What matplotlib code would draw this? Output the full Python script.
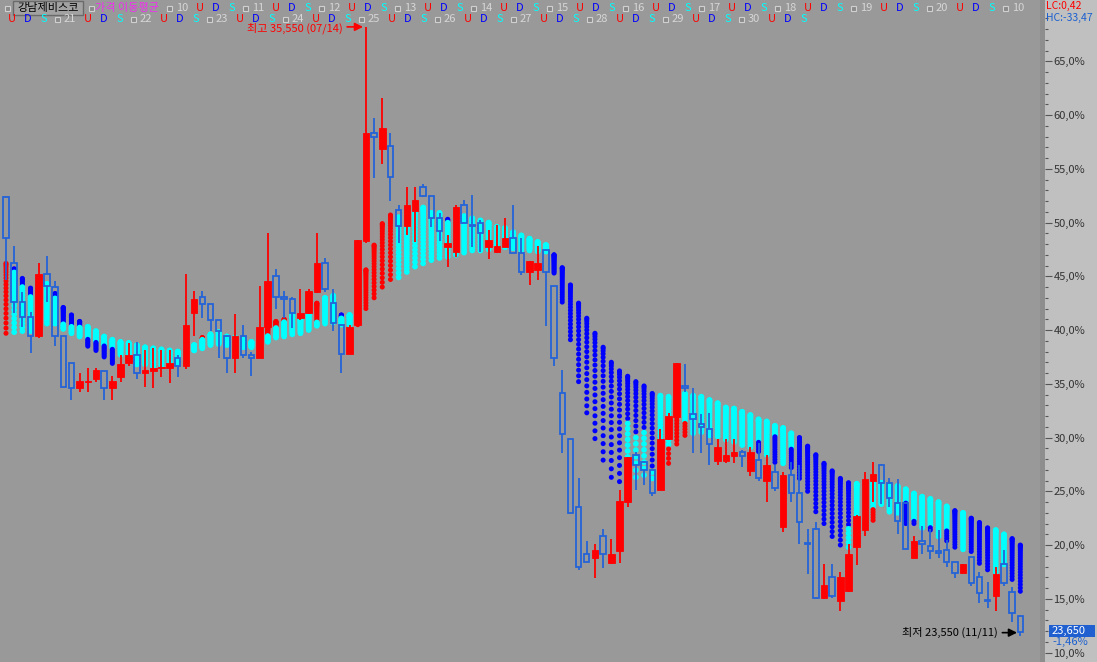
import numpy as np
import matplotlib.pyplot as plt
from matplotlib.patches import Rectangle

plt.rcParams['font.family'] = ['Noto Sans CJK KR', 'DejaVu Sans']

# 일봉 데이터 (세로축 % 단위로 읽음)
opens = [52.4, 46.2, 42.6, 41.2, 39.4, 45.2, 44.0, 39.4, 36.9, 34.6,
         35.2, 35.4, 36.2, 34.6, 35.6, 36.9, 37.7, 36.0, 36.2, 36.5,
         36.5, 37.4, 36.7, 41.6, 43.1, 42.4, 40.9, 39.4, 37.4, 39.4,
         37.7, 37.4, 40.3, 45.0, 43.1, 42.9, 41.1, 41.6, 43.5, 46.2,
         42.5, 40.5, 37.8, 40.5, 48.3, 58.3, 56.8, 57.1, 51.2, 49.7,
         51.1, 53.3, 52.5, 50.4, 47.7, 47.3, 51.6, 49.8, 50.0, 47.7,
         47.3, 47.7, 48.6, 47.2, 45.4, 45.6, 47.4, 44.1, 34.1, 29.9,
         23.5, 19.2, 18.8, 20.8, 18.3, 19.4, 24.0, 28.4, 27.7, 27.0,
         25.1, 29.9, 31.9, 34.8, 32.2, 31.3, 30.8, 27.8, 27.8, 28.3,
         28.7, 26.9, 27.9, 26.0, 26.8, 21.7, 26.5, 24.8, 20.2, 21.5,
         15.1, 17.0, 14.8, 15.7, 19.8, 21.4, 26.0, 27.4, 25.8, 23.9,
         23.9, 18.8, 20.4, 19.9, 19.4, 19.5, 18.4, 17.4, 18.9, 17.0,
         14.9, 15.3, 18.2, 15.6, 13.4]
highs = [52.5, 47.8, 43.5, 41.7, 46.2, 46.9, 44.6, 39.4, 36.9, 36.0,
         36.5, 36.5, 36.2, 35.7, 37.7, 38.8, 38.9, 38.1, 38.3, 38.1,
         38.1, 37.7, 45.2, 43.6, 43.6, 42.4, 40.9, 39.4, 41.5, 40.5,
         38.0, 44.1, 49.0, 45.7, 43.6, 43.1, 43.8, 43.8, 49.0, 46.7,
         43.8, 40.5, 40.5, 48.4, 68.2, 59.7, 61.6, 58.3, 51.6, 53.3,
         53.3, 53.6, 52.5, 50.9, 48.8, 51.6, 52.1, 52.6, 50.2, 49.3,
         49.8, 50.4, 51.6, 48.6, 46.4, 47.8, 47.4, 44.1, 36.3, 29.9,
         26.2, 20.4, 20.1, 21.5, 20.6, 25.1, 28.2, 28.7, 27.7, 27.0,
         30.8, 32.3, 36.9, 36.8, 34.6, 32.2, 32.3, 29.9, 29.9, 29.9,
         28.8, 29.1, 29.5, 28.4, 27.4, 26.8, 27.7, 27.4, 21.5, 22.1,
         18.2, 18.2, 17.5, 20.1, 22.8, 26.8, 27.7, 27.5, 26.2, 26.1,
         23.9, 20.8, 21.8, 21.5, 21.4, 20.5, 18.4, 18.2, 18.9, 17.5,
         16.6, 18.0, 19.5, 16.1, 13.4]
lows = [44.7, 41.6, 40.3, 37.9, 39.3, 42.6, 38.5, 34.7, 33.5, 34.2,
        34.2, 35.2, 33.5, 33.5, 35.2, 36.7, 35.4, 34.7, 34.6, 35.6,
        35.1, 35.6, 36.4, 39.4, 41.1, 39.9, 37.4, 36.0, 36.0, 37.4,
        35.7, 37.4, 40.0, 42.0, 41.1, 40.2, 40.9, 41.5, 43.4, 43.5,
        39.9, 36.0, 37.8, 40.3, 48.1, 54.1, 55.4, 52.0, 48.1, 48.8,
        48.2, 52.4, 49.6, 48.3, 45.9, 46.8, 50.0, 47.7, 47.3, 46.6,
        47.2, 47.7, 47.2, 45.1, 44.2, 44.7, 40.4, 36.7, 28.6, 23.0,
        17.7, 18.4, 16.9, 17.9, 18.2, 18.3, 23.5, 25.1, 25.6, 24.6,
        25.1, 29.8, 31.9, 34.2, 28.6, 28.6, 27.4, 27.4, 27.6, 27.6,
        27.3, 26.4, 26.0, 24.0, 25.0, 21.2, 24.0, 20.1, 17.3, 15.0,
        15.0, 15.1, 13.9, 15.6, 18.1, 20.8, 24.0, 23.8, 23.5, 21.0,
        19.6, 18.8, 19.2, 18.7, 18.8, 18.0, 16.9, 17.4, 16.2, 14.6,
        14.1, 13.9, 16.2, 12.8, 11.5]
closes = [48.6, 42.6, 41.2, 39.4, 45.2, 44.1, 39.4, 34.7, 34.6, 35.3,
          35.3, 36.3, 34.6, 35.3, 36.8, 37.7, 36.0, 36.3, 36.5, 36.6,
          36.9, 36.7, 40.5, 42.9, 42.4, 40.9, 39.9, 37.4, 39.4, 37.7,
          37.4, 40.3, 44.6, 43.1, 42.9, 41.6, 41.6, 43.6, 46.2, 43.8,
          40.7, 37.8, 40.3, 48.4, 58.3, 58.0, 58.8, 54.2, 49.7, 51.6,
          52.1, 52.5, 50.4, 49.2, 48.1, 51.4, 50.0, 49.7, 49.0, 48.4,
          47.8, 48.6, 47.2, 45.4, 46.4, 46.2, 45.4, 37.4, 30.3, 23.0,
          18.0, 18.4, 19.5, 19.2, 19.2, 24.1, 28.2, 27.4, 27.0, 24.8,
          29.9, 32.0, 36.9, 34.6, 31.7, 31.0, 29.4, 29.1, 28.4, 28.7,
          28.3, 28.7, 26.2, 27.4, 25.3, 26.5, 24.8, 22.1, 20.1, 15.1,
          16.3, 15.3, 17.0, 19.2, 22.7, 26.1, 26.6, 25.8, 24.4, 22.2,
          19.6, 20.4, 20.1, 19.4, 19.3, 18.4, 17.4, 18.2, 16.5, 15.5,
          14.8, 17.3, 16.5, 13.7, 11.9]

# 이동평균 10~30 묶음: 위/아래 끝, 색이 바뀌는 값, 위/아래 색 (U 상승, D 하락, S 보합)
ma_hi = [46.2, 45.7, 44.8, 43.9, 43.5, 44.3, 43.4, 42.1, 41.4, 40.8,
         40.3, 39.9, 39.4, 39.1, 38.9, 38.8, 38.6, 38.4, 38.3, 38.2,
         38.1, 38.0, 38.6, 38.6, 39.3, 39.6, 39.8, 39.4, 39.3, 39.1,
         38.9, 39.0, 40.2, 40.8, 41.0, 41.4, 41.0, 41.6, 42.5, 43.0,
         43.2, 41.4, 41.4, 42.5, 45.6, 47.9, 49.9, 50.7, 50.5, 49.6,
         51.4, 51.4, 50.9, 50.9, 50.3, 50.3, 50.6, 50.4, 50.2, 50.0,
         49.6, 49.5, 49.1, 48.8, 48.5, 48.2, 47.9, 47.0, 45.8, 44.2,
         42.5, 41.1, 39.7, 38.4, 37.0, 36.2, 35.7, 35.2, 34.8, 34.1,
         33.9, 33.8, 34.0, 34.1, 33.9, 33.8, 33.5, 33.2, 32.8, 32.7,
         32.4, 32.1, 31.7, 31.5, 31.1, 30.9, 30.4, 30.0, 29.2, 28.4,
         27.6, 26.9, 26.2, 25.8, 25.7, 25.4, 25.8, 25.8, 25.6, 25.5,
         25.2, 24.8, 24.5, 24.3, 24.0, 23.6, 23.2, 23.0, 22.5, 22.1,
         21.6, 21.4, 21.0, 20.6, 20.0]
ma_lo = [39.7, 39.8, 39.9, 39.9, 40.0, 40.6, 40.6, 40.1, 39.7, 39.4,
         38.5, 38.1, 37.5, 36.9, 37.7, 37.7, 36.8, 36.8, 36.6, 36.6,
         36.9, 36.9, 37.2, 38.1, 38.3, 38.6, 38.7, 38.6, 38.5, 38.4,
         38.4, 38.3, 38.9, 39.3, 39.4, 39.6, 39.7, 40.0, 40.4, 40.6,
         40.7, 40.5, 40.5, 40.5, 42.0, 43.0, 44.0, 44.7, 44.9, 45.4,
         45.9, 46.2, 46.5, 46.7, 46.8, 47.0, 47.2, 47.4, 47.4, 47.5,
         47.6, 47.7, 47.6, 47.4, 47.4, 47.3, 47.3, 45.3, 42.6, 39.1,
         35.2, 32.3, 29.9, 27.9, 26.3, 25.9, 28.2, 26.3, 26.5, 26.2,
         29.1, 27.6, 29.4, 30.2, 30.4, 30.5, 30.2, 30.1, 29.8, 29.6,
         29.3, 29.1, 28.7, 28.4, 27.7, 27.6, 27.2, 26.2, 25.0, 23.1,
         22.0, 20.8, 20.0, 19.8, 22.7, 22.3, 22.3, 23.8, 23.1, 23.0,
         22.0, 22.0, 21.6, 21.4, 20.8, 20.4, 19.8, 19.6, 19.4, 18.3,
         17.7, 17.5, 18.2, 16.8, 15.7]
ma_split = [None, 45.4, 44.0, 43.2, None, None, 43.0, 40.6, 40.4, 40.3,
            39.2, 38.9, 38.6, 38.3, None, None, None, None, None, None,
            None, None, None, None, 39.1, None, None, None, None, None,
            None, None, 39.5, 40.2, 40.8, None, None, None, 40.8, None,
            None, 41.1, None, None, None, None, None, None, None, None,
            None, None, None, None, 50.0, None, None, None, None, None,
            None, None, None, None, None, None, None, None, None, None,
            None, None, None, None, None, None, 31.6, 30.4, 30.7, 27.0,
            None, 29.3, 31.9, 31.4, None, None, None, None, None, None,
            None, None, 29.6, None, 30.2, None, 29.0, None, None, None,
            None, None, None, 21.9, None, None, 23.3, None, None, None,
            23.9, 22.3, None, 21.7, None, 21.4, None, None, None, None,
            None, None, None, None, None]
ma_kind = ['UU', 'DS', 'DS', 'DS', 'SS', 'SS', 'DS', 'DS', 'DS', 'DS',
           'SD', 'SD', 'SD', 'SD', 'SS', 'SS', 'SS', 'SS', 'SS', 'SS',
           'SS', 'SS', 'SS', 'SS', 'US', 'SS', 'SS', 'SS', 'SS', 'SS',
           'SS', 'SS', 'US', 'US', 'US', 'SS', 'SS', 'SS', 'US', 'SS',
           'SS', 'DS', 'SS', 'UU', 'UU', 'UU', 'UU', 'UU', 'SS', 'SS',
           'SS', 'SS', 'SS', 'SS', 'DS', 'SS', 'SS', 'SS', 'SS', 'SS',
           'SS', 'SS', 'SS', 'SS', 'SS', 'SS', 'SS', 'DD', 'DD', 'DD',
           'DD', 'DD', 'DD', 'DD', 'DD', 'DD', 'DS', 'DS', 'DS', 'DS',
           'SS', 'SU', 'SU', 'SU', 'SS', 'SS', 'SS', 'SS', 'SS', 'SS',
           'SS', 'SS', 'SD', 'SS', 'SD', 'SS', 'SD', 'DD', 'DD', 'DD',
           'DD', 'DD', 'DD', 'DS', 'SS', 'SS', 'SU', 'SS', 'SS', 'SS',
           'SD', 'SD', 'SS', 'SD', 'SS', 'SD', 'DD', 'SS', 'DD', 'DD',
           'DD', 'SS', 'SS', 'DD', 'DD']

row1_periods = ['10', '11', '12', '13', '14', '15', '16', '17', '18', '19', '20', '10']
row2_periods = ['21', '22', '23', '24', '25', '26', '27', '28', '29', '30']
y_ticks = [10, 15, 20, 25, 30, 35, 40, 45, 50, 55, 60, 65]

W, H = 1097, 662
RED = '#ff0000'
BLUE = '#2463d8'
kcol = {'U': '#ff0000', 'D': '#0000ff', 'S': '#00ffff'}

fig = plt.figure(figsize=(W / 100, H / 100), dpi=100)
fig.patch.set_facecolor('#c0c0c0')
ax = fig.add_axes([0, 0, 1045 / W, 1])
ax.set_facecolor('#999999')

n = len(opens)
x = np.arange(n)

# 이동평균 점
t = (np.arange(21) / 20) ** 1.5
for i in range(n):
    ys = ma_hi[i] - (ma_hi[i] - ma_lo[i]) * t
    sp = ma_split[i] if ma_split[i] is not None else ma_lo[i]
    kinds = [ma_kind[i][0] if y >= sp else ma_kind[i][1] for y in ys]
    cols = [kcol[k] for k in kinds]
    sizes = [17 if k == 'S' else 13 for k in kinds]
    ax.scatter(np.full(21, x[i]), ys, c=cols, s=sizes, marker='o',
               linewidths=0, zorder=2)

# 캔들
for i in range(n):
    o, h, l, c = opens[i], highs[i], lows[i], closes[i]
    top, bot = max(o, c), min(o, c)
    if c > o:
        ax.vlines(x[i], l, h, color=RED, lw=1.3, zorder=3)
        ax.add_patch(Rectangle((x[i] - 0.4, bot), 0.8, max(top - bot, 0.1),
                               facecolor=RED, edgecolor=RED, lw=0.6, zorder=4))
    else:
        ax.vlines(x[i], top, h, color=BLUE, lw=1.3, zorder=3)
        ax.vlines(x[i], l, bot, color=BLUE, lw=1.3, zorder=3)
        ax.add_patch(Rectangle((x[i] - 0.33, bot), 0.66, top - bot,
                               facecolor='none', edgecolor=BLUE, lw=1.3, zorder=4))

# 최고 / 최저 표시
ih = int(np.argmax(highs))
ax.annotate('', xy=(x[ih] - 0.35, highs[ih]), xytext=(x[ih] - 2.3, highs[ih]),
            arrowprops=dict(arrowstyle='-|>', color=RED, lw=1.2,
                            shrinkA=0, shrinkB=0, mutation_scale=12), zorder=5)
ax.text(x[ih] - 2.8, highs[ih] - 0.1, '최고 35,550 (07/14)', color=RED, fontsize=8,
        ha='right', va='center', zorder=5)
il = n - 1
yl = lows[il] + 0.35
ax.annotate('', xy=(x[il] - 0.4, yl), xytext=(x[il] - 2.2, yl),
            arrowprops=dict(arrowstyle='-|>', color='black', lw=1.2,
                            shrinkA=0, shrinkB=0, mutation_scale=12), zorder=5)
ax.text(x[il] - 2.7, yl, '최저 23,550 (11/11)', color='black', fontsize=8,
        ha='right', va='center', zorder=5)

ax.set_xlim(-6 / 8.18, -6 / 8.18 + 1045 / 8.18)
ax.set_ylim(9.12, 70.70)
ax.set_xticks([])
ax.yaxis.tick_right()
ax.set_yticks(y_ticks)
ax.set_yticklabels([f'{v:.1f}%'.replace('.', ',') for v in y_ticks])
ax.set_yticks(np.arange(10, 70, 1), minor=True)
ax.tick_params(axis='y', which='major', length=5, width=0.8, color='#555555',
               labelcolor='#333333', labelsize=8, pad=1)
ax.tick_params(axis='y', which='minor', length=2, width=0.8, color='#555555')
for s in ax.spines.values():
    s.set_visible(False)

# 오른쪽 경계 띠
fig.add_artist(Rectangle((1040 / W, 0), 5 / W, 1, transform=fig.transFigure,
                         facecolor='#8e8e8e', edgecolor='none', zorder=1))


def fx(px):
    return px / W


def fy(py):
    return 1 - py / H


def square(px, py):
    fig.add_artist(Rectangle((fx(px), fy(py + 3)), 5 / W, 5 / H,
                             transform=fig.transFigure, facecolor='#8a8a8a',
                             edgecolor='#d0d0d0', lw=0.8, zorder=6))


def uds(base, yc):
    for dx, ch in [(33, 'U'), (49, 'D'), (65, 'S')]:
        fig.text(fx(base + dx), fy(yc), ch, color=kcol[ch], fontsize=8,
                 ha='center', va='center', zorder=6)


# 상단 범례
y1, y2 = 8, 19
square(5, y1)
fig.add_artist(Rectangle((fx(13), fy(15)), 70 / W, 14 / H, transform=fig.transFigure,
                         facecolor='#a2a2a2', edgecolor='#6a6a6a', lw=1, zorder=6))
fig.text(fx(48), fy(y1), '강남제비스코', color='black', fontsize=8,
         ha='center', va='center', zorder=7)
square(89, y1)
fig.text(fx(95), fy(y1), '가격 이동평균', color='#f030f0', fontsize=8,
         ha='left', va='center', zorder=6)
for k, lab in enumerate(row1_periods):
    base = 167 + 76 * k
    square(base, y1)
    fig.text(fx(base + 9), fy(y1), lab, color='#d6d6d6', fontsize=8,
             ha='left', va='center', zorder=6)
    if k < len(row1_periods) - 1:
        uds(base, y1)
uds(55 - 76, y2)
for k, lab in enumerate(row2_periods):
    base = 55 + 76 * k
    square(base, y2)
    fig.text(fx(base + 9), fy(y2), lab, color='#d6d6d6', fontsize=8,
             ha='left', va='center', zorder=6)
    uds(base, y2)

# 오른쪽 상단 / 현재가
fig.text(fx(1046), fy(6), 'LC:0,42', color=RED, fontsize=7.5, ha='left', va='center')
fig.text(fx(1046), fy(17.5), 'HC:-33,47', color='#1a5fd0', fontsize=7.5,
         ha='left', va='center')
fig.add_artist(Rectangle((fx(1049), fy(637)), 46 / W, 12 / H, transform=fig.transFigure,
                         facecolor='#1f5fd0', edgecolor='none', zorder=6))
fig.text(fx(1052), fy(631), '23,650', color='white', fontsize=8, ha='left',
         va='center', zorder=7)
fig.text(fx(1052), fy(642), '-1,46%', color='#1a5fd0', fontsize=8, ha='left',
         va='center', zorder=7)

fig.savefig('out.png', dpi=100, facecolor=fig.get_facecolor())
